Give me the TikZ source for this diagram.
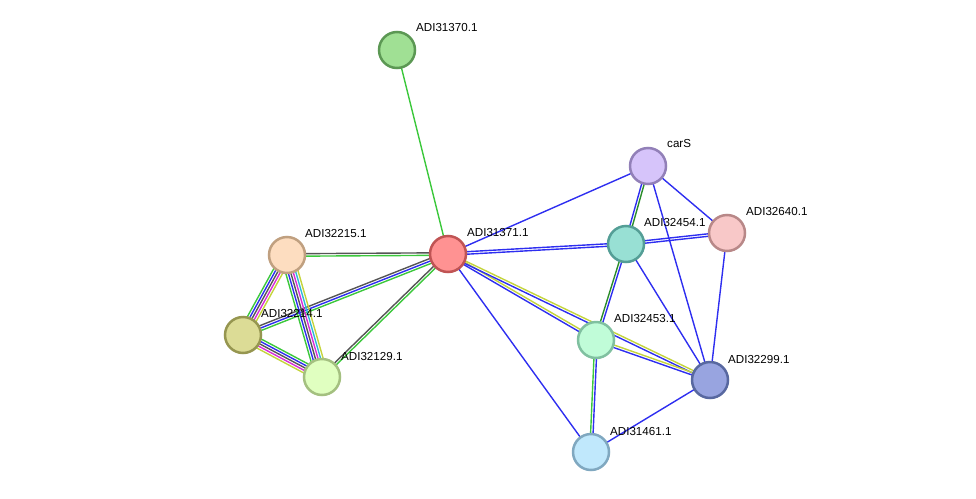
\documentclass[tikz,border=0pt]{standalone}
\usepackage{fontspec}
\setmainfont{Liberation Sans}
\usetikzlibrary{calc,backgrounds}

\definecolor{eneigh}{HTML}{3CC83C}
\definecolor{ecooc}{HTML}{2E2EF0}
\definecolor{ecoexp}{HTML}{555555}
\definecolor{eexp}{HTML}{D82CD8}
\definecolor{edb}{HTML}{2EB8D8}
\definecolor{etext}{HTML}{C4D43C}

\newcommand*{\edgesep}{2.5}
\newcommand*{\multiedge}[3]{%
	\foreach \c [count=\k] in {#3} {\xdef\nlines{\k}}
	\foreach \c [count=\k] in {#3} {
		\pgfmathsetmacro{\off}{(\k-(\nlines+1)/2)*\edgesep}
		\draw[medge,\c] ($(#1)!\off pt!90:(#2)$) -- ($(#2)!\off pt!-90:(#1)$);
	}
}

\begin{document}
\begin{tikzpicture}
[
	x=1pt,y=-1pt,
	prot/.style={circle,line width=2.5pt,minimum size=36pt,inner sep=0pt},
	lbl/.style={anchor=west,inner sep=0pt,font=\fontsize{11.6}{13}\selectfont},
	medge/.style={line width=1.4pt}
]

	\useasboundingbox (0,0) rectangle (976,498);

	% proteins
	\node[prot,fill={rgb,255:red,160;green,224;blue,148},draw={rgb,255:red,92;green,152;blue,84}] (n31370) at (397,50) {};
	\node[prot,fill={rgb,255:red,255;green,146;blue,146},draw={rgb,255:red,192;green,84;blue,84}] (n31371) at (448,254) {};
	\node[prot,fill={rgb,255:red,253;green,221;blue,192},draw={rgb,255:red,192;green,160;blue,128}] (n32215) at (287,255) {};
	\node[prot,fill={rgb,255:red,220;green,220;blue,150},draw={rgb,255:red,150;green,150;blue,80}] (n32214) at (243,335) {};
	\node[prot,fill={rgb,255:red,224;green,255;blue,192},draw={rgb,255:red,164;green,192;blue,128}] (n32129) at (322,377) {};
	\node[prot,fill={rgb,255:red,214;green,196;blue,250},draw={rgb,255:red,146;green,128;blue,184}] (ncarS) at (648,166) {};
	\node[prot,fill={rgb,255:red,152;green,224;blue,212},draw={rgb,255:red,84;green,158;blue,150}] (n32454) at (626,244) {};
	\node[prot,fill={rgb,255:red,248;green,200;blue,200},draw={rgb,255:red,184;green,136;blue,136}] (n32640) at (727,233) {};
	\node[prot,fill={rgb,255:red,192;green,252;blue,216},draw={rgb,255:red,128;green,192;blue,160}] (n32453) at (596,340) {};
	\node[prot,fill={rgb,255:red,152;green,164;blue,224},draw={rgb,255:red,88;green,104;blue,160}] (n32299) at (710,380) {};
	\node[prot,fill={rgb,255:red,192;green,232;blue,252},draw={rgb,255:red,128;green,168;blue,192}] (n31461) at (591,452) {};

	% labels
	\node[lbl] (l31370) at ([shift={(19,-22)}]n31370.center) {ADI31370.1};
	\node[lbl] (l31371) at ([shift={(19,-21)}]n31371.center) {ADI31371.1};
	\node[lbl] (l32215) at ([shift={(18,-21)}]n32215.center) {ADI32215.1};
	\node[lbl] (l32214) at ([shift={(18,-21)}]n32214.center) {ADI32214.1};
	\node[lbl] (l32129) at ([shift={(19,-21)}]n32129.center) {ADI32129.1};
	\node[lbl] (lcarS) at ([shift={(19,-22)}]ncarS.center) {carS};
	\node[lbl] (l32454) at ([shift={(18,-21)}]n32454.center) {ADI32454.1};
	\node[lbl] (l32640) at ([shift={(19,-21)}]n32640.center) {ADI32640.1};
	\node[lbl] (l32453) at ([shift={(18,-21)}]n32453.center) {ADI32453.1};
	\node[lbl] (l32299) at ([shift={(18,-21)}]n32299.center) {ADI32299.1};
	\node[lbl] (l31461) at ([shift={(19,-21)}]n31461.center) {ADI31461.1};

	% edges
	\begin{pgfonlayer}{background}
		\multiedge{n31370}{n31371}{eneigh}
		\multiedge{n31371}{n32215}{ecoexp,eneigh}
		\multiedge{n31371}{n32214}{ecoexp,ecooc,eneigh}
		\multiedge{n31371}{n32129}{ecoexp,eneigh}
		\multiedge{n32215}{n32214}{eneigh,ecooc,ecoexp,eexp,etext}
		\multiedge{n32215}{n32129}{eneigh,ecooc,ecoexp,eexp,edb,etext}
		\multiedge{n32214}{n32129}{etext,eexp,ecoexp,ecooc,eneigh}
		\multiedge{n31371}{ncarS}{ecooc}
		\multiedge{n31371}{n32454}{ecooc,ecooc}
		\multiedge{n31371}{n32453}{ecooc,etext}
		\multiedge{n31371}{n32299}{ecooc,etext}
		\multiedge{n31371}{n31461}{ecooc}
		\multiedge{ncarS}{n32454}{ecooc,eneigh!70!black}
		\multiedge{ncarS}{n32640}{ecooc}
		\multiedge{ncarS}{n32299}{ecooc}
		\multiedge{n32454}{n32640}{ecooc,ecooc}
		\multiedge{n32454}{n32453}{eneigh!70!black,ecooc}
		\multiedge{n32454}{n32299}{ecooc}
		\multiedge{n32640}{n32299}{ecooc}
		\multiedge{n32453}{n32299}{ecooc,etext}
		\multiedge{n32453}{n31461}{eneigh,ecooc}
		\multiedge{n32299}{n31461}{ecooc}
	\end{pgfonlayer}

\end{tikzpicture}
\end{document}
